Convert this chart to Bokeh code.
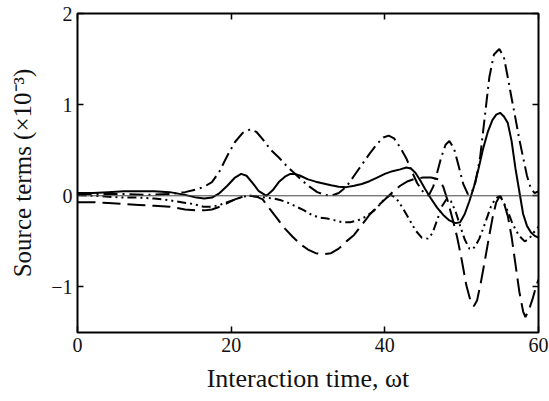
from bokeh.plotting import figure
from bokeh.models import Span, FixedTicker, LinearAxis, Range1d
from bokeh.embed import file_html
from bokeh.resources import INLINE

# ---- data ----
x_ticks = [0, 20, 40, 60]
y_ticks = [-1, 0, 1, 2]
x_title = "Interaction time, \u03c9t"
y_title = "Source terms (\u00d710\u207b\u00b3)"

# solid curve
s_x = [0, 2, 4, 6, 8, 10, 12, 14, 15.5, 16.5, 17.5, 18.5, 19.5, 20.5, 21.3, 22, 22.8, 23.6, 24.6,
       25.4, 26.2, 27, 27.7, 28.3, 29, 30, 31, 32, 33, 34, 35, 36, 37, 38, 39, 40, 41, 42, 42.8,
       43.4, 44, 44.6, 45.2, 46, 46.8, 47.6, 48.4, 49.2, 49.8, 50.4, 51, 51.6, 52.2, 52.8, 53.4,
       54, 54.5, 55, 55.5, 56, 56.5, 57, 57.5, 58, 58.5, 59, 59.5, 60]
s_y = [0.03, 0.03, 0.04, 0.05, 0.05, 0.05, 0.04, 0.01, -0.02, -0.03, -0.02, 0.03, 0.11, 0.2, 0.24,
       0.22, 0.14, 0.05, 0.0, 0.06, 0.15, 0.21, 0.24, 0.24, 0.22, 0.18, 0.155, 0.135, 0.115, 0.1,
       0.095, 0.11, 0.13, 0.16, 0.2, 0.24, 0.27, 0.29, 0.31, 0.3, 0.25, 0.17, 0.08, -0.03, -0.13,
       -0.21, -0.27, -0.3, -0.29, -0.2, -0.06, 0.1, 0.3, 0.52, 0.7, 0.83, 0.89, 0.91, 0.87, 0.8,
       0.6, 0.3, 0.05, -0.2, -0.33, -0.4, -0.44, -0.46]

# dash-dot curve (largest peaks)
c_x = [0, 3, 6, 9, 12, 14, 15.5, 16.5, 17.5, 18.5, 19.5, 20.5, 21.5, 22.5, 23.3, 24.2, 25.2, 26.2,
       27.2, 28.2, 29.2, 30.2, 31.2, 32.2, 33, 34, 35, 36, 37, 38, 39, 39.8, 40.5, 41.2, 42, 42.8,
       43.5, 44.2, 45, 45.7, 46.3, 46.8, 47.3, 47.9, 48.4, 49, 49.6, 50.2, 50.8, 51.3, 51.8, 52.4,
       53, 53.6, 54.2, 54.9, 55.5, 56, 56.5, 57, 57.5, 58, 58.5, 59, 59.5, 60]
c_y = [0.02, 0.02, 0.02, 0.01, 0.02, 0.04, 0.07, 0.1, 0.15, 0.27, 0.44, 0.59, 0.69, 0.73, 0.7,
       0.61, 0.5, 0.42, 0.33, 0.25, 0.17, 0.1, 0.04, 0.01, 0.0, 0.03, 0.1, 0.22, 0.34, 0.46, 0.57,
       0.64, 0.66, 0.63, 0.53, 0.41, 0.27, 0.14, 0.04, 0.0, 0.1, 0.25, 0.41, 0.56, 0.6, 0.52, 0.33,
       0.13, 0.02, 0.03, 0.15, 0.42, 0.86, 1.3, 1.55, 1.61, 1.52, 1.3, 1.07, 0.85, 0.62, 0.42, 0.22,
       0.08, 0.03, 0.05]

# long-dash curve
b_x = [0, 2, 4, 6, 8, 10, 12, 14, 15.5, 16.5, 17.5, 18.5, 19.5, 20.5, 21.5, 22.5, 23.3, 24.1, 25,
       26, 27, 28, 29, 30, 31, 32, 33, 34, 35, 36, 37, 38, 39, 40, 41, 42, 43, 44, 45, 46, 47,
       47.6, 48.2, 48.8, 49.4, 50, 50.6, 51.2, 51.6, 52, 52.5, 53, 53.5, 54, 54.5, 55, 55.5, 56,
       56.5, 57, 57.5, 58, 58.3, 58.8, 59.2, 59.7, 60]
b_y = [-0.07, -0.07, -0.08, -0.09, -0.1, -0.11, -0.12, -0.15, -0.16, -0.16, -0.15, -0.12, -0.08,
       -0.04, -0.01, 0.0, -0.01, -0.04, -0.14, -0.25, -0.36, -0.45, -0.53, -0.59, -0.63, -0.64,
       -0.63, -0.58, -0.5, -0.43, -0.32, -0.21, -0.12, -0.04, 0.04, 0.11, 0.16, 0.19, 0.2, 0.2,
       0.18, 0.1, -0.06, -0.25, -0.45, -0.7, -0.98, -1.17, -1.21, -1.15, -0.95, -0.72, -0.48,
       -0.25, -0.07, 0.0, -0.08, -0.22, -0.45, -0.75, -1.05, -1.27, -1.33, -1.24, -1.14, -0.99,
       -0.92]

# dash-dot-dot curve
d_x = [0, 2, 4, 6, 8, 10, 12, 13.5, 15, 16.4, 17.5, 18.5, 19.5, 20.5, 21.5, 22.5, 23.5, 24.5, 25.5,
       26.5, 27.5, 28.5, 29.5, 30.5, 31.5, 32.5, 33.5, 34.5, 35.5, 36.5, 37.5, 38.5, 39.3, 40,
       40.8, 41.5, 42.3, 43.2, 44, 44.8, 45.6, 46.2, 46.8, 47.4, 48, 48.6, 49.2, 49.8, 50.4, 51,
       51.4, 51.8, 52.3, 52.8, 53.3, 53.8, 54.4, 55, 55.5, 56, 56.5, 57, 57.5, 58.2, 58.8, 59.4, 60]
d_y = [0.01, 0.0, -0.01, -0.02, -0.02, -0.03, -0.05, -0.07, -0.09, -0.12, -0.12, -0.1, -0.07,
       -0.04, -0.01, 0.0, -0.01, -0.02, -0.03, -0.05, -0.08, -0.12, -0.16, -0.21, -0.24, -0.25,
       -0.27, -0.29, -0.29, -0.27, -0.23, -0.17, -0.1, -0.03, 0.01, -0.03, -0.13, -0.26, -0.38,
       -0.46, -0.47, -0.41, -0.27, -0.12, -0.04, -0.06, -0.17, -0.33, -0.48, -0.58, -0.59, -0.55,
       -0.47, -0.36, -0.24, -0.12, -0.03, 0.0, -0.08, -0.17, -0.28, -0.37, -0.44, -0.5, -0.47,
       -0.4, -0.34]

SERIF = "Liberation Serif"
INK = "#111111"

p = figure(width=549, height=401, x_range=Range1d(0, 60), y_range=Range1d(-1.5, 2),
           output_backend="svg", toolbar_location=None,
           min_border_left=77, min_border_right=11, min_border_top=13, min_border_bottom=69)
p.grid.visible = False
p.outline_line_color = "black"
p.outline_line_width = 2
p.background_fill_color = "white"
p.border_fill_color = "white"


def style(ax, ticks, show_labels):
    ax.ticker = FixedTicker(ticks=ticks)
    ax.axis_line_color = None
    ax.minor_tick_line_color = None
    ax.major_tick_in = 6
    ax.major_tick_out = 0
    ax.major_tick_line_width = 1.5
    ax.major_tick_line_color = "black"
    if show_labels:
        ax.major_label_text_font = SERIF
        ax.major_label_text_font_size = "20px"
        ax.major_label_text_color = INK
        ax.major_label_standoff = 5
    else:
        ax.major_label_text_font_size = "1px"
        ax.major_label_text_color = None
        ax.major_label_standoff = 0


style(p.xaxis[0], x_ticks, True)
style(p.yaxis[0], y_ticks, True)
p.yaxis[0].major_label_overrides = {-1: "\u22121"}

for ax, title, size, standoff in ((p.xaxis[0], x_title, "26px", 9),
                                  (p.yaxis[0], y_title, "25px", 12)):
    ax.axis_label = title
    ax.axis_label_text_font = SERIF
    ax.axis_label_text_font_size = size
    ax.axis_label_text_font_style = "normal"
    ax.axis_label_text_color = INK
    ax.axis_label_standoff = standoff

top_ax = LinearAxis()
style(top_ax, x_ticks, False)
p.add_layout(top_ax, "above")
right_ax = LinearAxis()
style(right_ax, y_ticks, False)
p.add_layout(right_ax, "right")

p.add_layout(Span(location=0, dimension="width", line_color="#444444", line_width=1))

p.line(s_x, s_y, line_color="black", line_width=2)
p.line(c_x, c_y, line_color="black", line_width=2, line_dash="14 5 2 5")
p.line(b_x, b_y, line_color="black", line_width=2, line_dash="18 7")
p.line(d_x, d_y, line_color="black", line_width=2, line_dash="9 4 2 4 2 4")

open("out.html", "w").write(file_html(p, INLINE))
